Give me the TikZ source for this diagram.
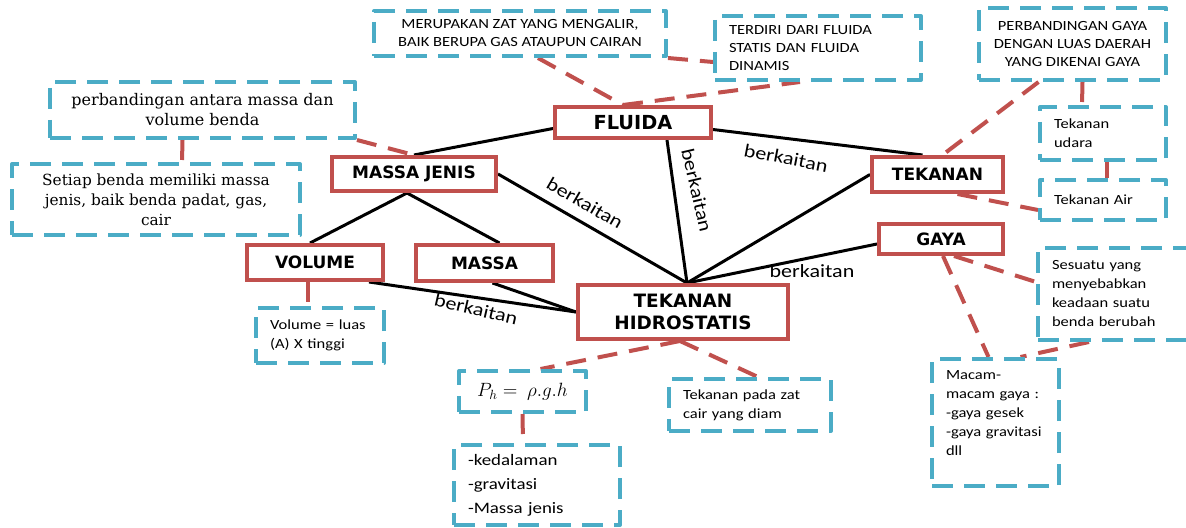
\documentclass[tikz,border=0pt]{standalone}
\usepackage{fontspec}
\usetikzlibrary{calc}
\setmainfont{Carlito}
\newfontfamily\calib[FakeStretch=1.18]{Carlito}
\newfontfamily\heavy{DejaVu Sans}
\newfontfamily\serifbox{DejaVu Serif}
\definecolor{boxred}{HTML}{C0504D}
\definecolor{boxblue}{HTML}{4BACC6}
\pgfdeclarelayer{background}
\pgfsetlayers{background,main}

\tikzset{
  concept/.style={draw=boxred, line width=3pt, fill=white, inner sep=0pt, align=center,
    font=\heavy\bfseries\fontsize{12.75}{16}\selectfont},
  note/.style={draw=boxblue, line width=3pt, dash pattern=on 16pt off 8pt, line join=round,
    fill=white, inner sep=0pt},
  capsnote/.style={note, align=center, font=\calib\fontsize{10.5}{13.5}\selectfont},
  smallnote/.style={note, align=left, inner xsep=10.5pt, font=\calib\fontsize{10.5}{14.25}\selectfont},
  serifnote/.style={note, align=center, font=\serifbox\fontsize{11.5}{15}\selectfont},
  link/.style={line width=2.25pt, black},
  relation/.style={draw=boxred, line width=3pt, dash pattern=on 15pt off 9pt},
  tag/.style={font=\calib\fontsize{14}{16}\selectfont, inner sep=0pt},
}

\begin{document}
\begin{tikzpicture}[x=0.75pt, y=-0.75pt]
\useasboundingbox (0,0) rectangle (1186,528);

% main concepts
\node[concept, minimum width=117pt, minimum height=23.25pt,
      font=\heavy\bfseries\fontsize{14.5}{16}\selectfont] (fluida) at (633,122.5) {FLUIDA};
\node[concept, minimum width=123pt, minimum height=25.5pt] (mj) at (414,174) {MASSA JENIS};
\node[concept, minimum width=98.25pt, minimum height=26.25pt] (tek) at (937.5,174.5) {TEKANAN};
\node[concept, minimum width=93pt, minimum height=22.5pt] (gaya) at (941,239) {GAYA};
\node[concept, minimum width=102pt, minimum height=26.25pt] (vol) at (315,262.5) {VOLUME};
\node[concept, minimum width=102.75pt, minimum height=27pt] (massa) at (484.5,263) {MASSA};
\node[concept, minimum width=157.5pt, minimum height=40.5pt,
      font=\heavy\bfseries\fontsize{13.8}{16}\selectfont] (th) at (683,312) {TEKANAN\\HIDROSTATIS};

% explanatory notes
\node[capsnote, minimum width=219pt, minimum height=33.75pt] (merup) at (520,33.5)
  {MERUPAKAN ZAT YANG MENGALIR,\\BAIK BERUPA GAS ATAUPUN CAIRAN};
\node[smallnote, font=\calib\fontsize{10.5}{13.5}\selectfont, text width=133.5pt,
      minimum height=48pt] (terdiri) at (818,48) {TERDIRI DARI FLUIDA\\STATIS DAN FLUIDA\\DINAMIS};
\node[capsnote, minimum width=140.25pt, minimum height=54pt] (pgaya) at (1072.5,44)
  {PERBANDINGAN GAYA\\DENGAN LUAS DAERAH\\YANG DIKENAI GAYA};
\node[smallnote, text width=73.5pt, minimum height=39.75pt] (udara) at (1103,133.5) {Tekanan\\udara};
\node[smallnote, text width=73.5pt, minimum height=30pt] (air) at (1103,200) {Tekanan Air};
\node[smallnote, text width=99pt, minimum height=69pt] (sesuatu) at (1118,294)
  {Sesuatu yang\\menyebabkan\\keadaan suatu\\benda berubah};
\node[smallnote, text width=74.25pt, minimum height=95.25pt] (macam) at (995.5,422.5)
  {Macam-\\macam gaya :\\-gaya gesek\\-gaya gravitasi\\dll\\\mbox{}};
\node[smallnote, text width=100.5pt, minimum height=39pt] (tpada) at (750,405)
  {Tekanan pada zat\\cair yang diam};
\node[serifnote, minimum width=228.75pt, minimum height=42pt,
      font=\serifbox\fontsize{12}{15}\selectfont] (pmassa) at (202.5,110)
  {perbandingan antara massa dan\\volume benda};
\node[serifnote, minimum width=216pt, minimum height=53.25pt] (setiap) at (156,199.5)
  {Setiap benda memiliki massa\\jenis, baik benda padat, gas,\\cair};
\node[smallnote, text width=75pt, minimum height=41.25pt] (volbox) at (320,335.5)
  {Volume = luas\\(A) X tinggi};
\node[note, minimum width=95.25pt, minimum height=30.75pt, font=\fontsize{14}{16}\selectfont]
  (phbox) at (522.5,391.5) {$P_h =\ \rho.g.h$};
\node[smallnote, text width=103.5pt, minimum height=60pt, font=\calib\fontsize{12}{18}\selectfont]
  (kedal) at (537,485) {-kedalaman\\-gravitasi\\-Massa jenis};

% relation labels
\node[tag, rotate=-30] (b1) at (585,203) {berkaitan};
\node[tag, rotate=-77] (b2) at (697,190) {berkaitan};
\node[tag, rotate=-11] (b3) at (786,158) {berkaitan};
\node[tag] (b4) at (812,271) {berkaitan};
\node[tag, rotate=-13] (b5) at (476,309) {berkaitan};

\coordinate (hub) at ($(th.north)+(4,0)$);

\begin{pgfonlayer}{background}
  % solid relations
  \draw[link] ($(fluida.west)+(0,6)$) -- (mj.north);
  \draw[link] ($(fluida.east)+(0,7)$) -- ($(tek.north)+(-15,0)$);
  \draw[link] ($(fluida.south)+(34,0)$) -- (hub);
  \draw[link] (mj.east) -- (hub);
  \draw[link] (tek.west) -- (hub);
  \draw[link] ($(gaya.west)+(0,5)$) -- (hub);
  \draw[link] ($(mj.south)+(-7,0)$) -- ($(vol.north)+(-5,0)$);
  \draw[link] ($(mj.south)+(-7,0)$) -- ($(massa.north)+(15,0)$);
  \draw[link] ($(vol.south east)+(-16,0)$) -- (th.west);
  \draw[link] ($(massa.south)+(8,0)$) -- (th.west);

  % dashed note links
  \draw[relation] ($(merup.south)+(18,0)$) -- ($(fluida.north)+(-10,0)$);
  \draw[relation] ($(fluida.north)+(-10,0)$) -- ($(terdiri.south)+(-18,0)$);
  \draw[relation] (merup.south east) -- ($(terdiri.west)+(0,14)$);
  \draw[relation] ($(pgaya.south)+(-34,0)$) -- ($(tek.north)+(5,0)$);
  \draw[relation] ($(pgaya.south)+(10,0)$) -- ($(udara.north)+(-21,0)$);
  \draw[relation] ($(udara.south)+(4,0)$) -- ($(air.north)+(4,0)$);
  \draw[relation] ($(tek.south)+(20,0)$) -- ($(air.west)+(0,10)$);
  \draw[relation] ($(gaya.south)+(13,0)$) -- ($(sesuatu.west)+(0,-12)$);
  \draw[relation] ($(gaya.south)+(2,0)$) -- ($(macam.north)+(-7,0)$);
  \draw[relation] ($(sesuatu.south)+(-29,0)$) -- ($(macam.north)+(25,0)$);
  \draw[relation] ($(th.south)+(-3,0)$) -- ($(tpada.north)+(8,0)$);
  \draw[relation] ($(th.south)+(-3,0)$) -- ($(phbox.north)+(18,0)$);
  \draw[relation] (phbox.south) -- ($(kedal.north)+(-14,0)$);
  \draw[relation] (pmassa.south east) -- (mj.north);
  \draw[relation] ($(pmassa.south)+(-20,0)$) -- ($(setiap.north)+(26,0)$);
  \draw[relation] ($(vol.south)+(-7,0)$) -- ($(volbox.north)+(-12,0)$);
\end{pgfonlayer}
\end{tikzpicture}
\end{document}
